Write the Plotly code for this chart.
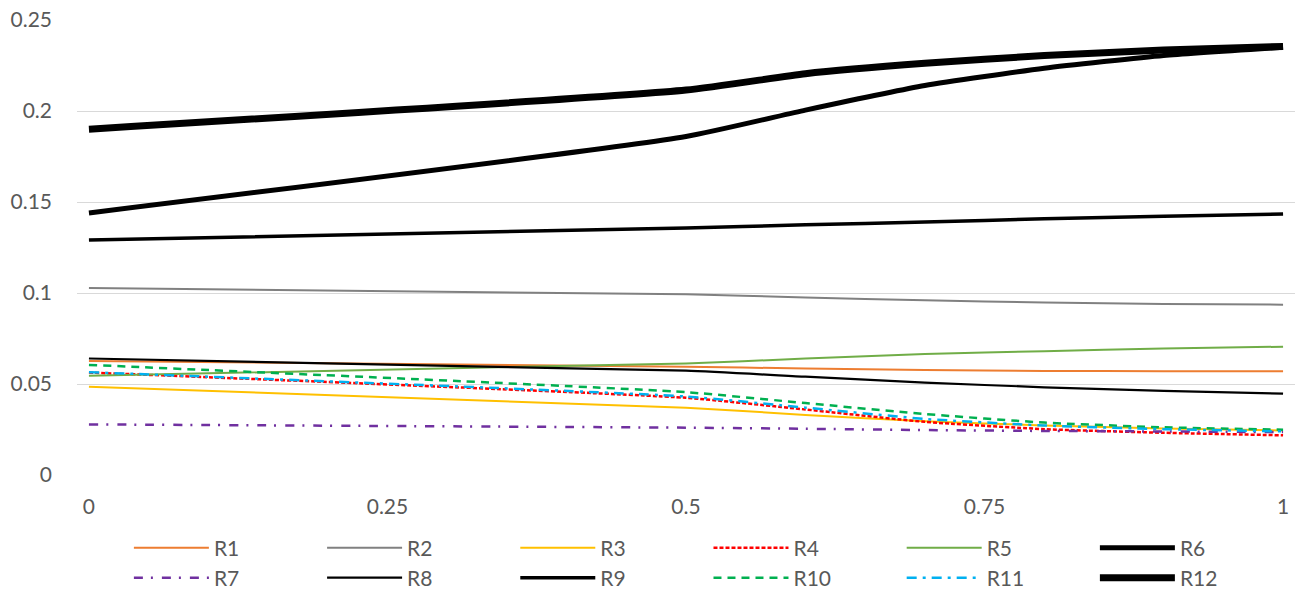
import plotly.graph_objects as go

x_vals = [0, 0.5, 0.6, 0.7, 0.8, 0.9, 1.0]

R1 = [0.0627, 0.0595, 0.0585, 0.0577, 0.0572, 0.0570, 0.0570]
R2 = [0.1027, 0.0993, 0.0975, 0.0960, 0.0948, 0.0940, 0.0936]
R3 = [0.0485, 0.0370, 0.0330, 0.0295, 0.0272, 0.0255, 0.0245]
R4 = [0.0563, 0.0424, 0.0360, 0.0292, 0.0252, 0.0232, 0.0218]
R5 = [0.0545, 0.0613, 0.0640, 0.0665, 0.0680, 0.0695, 0.0705]
R6 = [0.1440, 0.1860, 0.2005, 0.2140, 0.2235, 0.2305, 0.2350]
R7 = [0.0278, 0.0260, 0.0254, 0.0247, 0.0242, 0.0239, 0.0236]
R8 = [0.0640, 0.0573, 0.0540, 0.0508, 0.0482, 0.0462, 0.0447]
R9 = [0.1291, 0.1357, 0.1375, 0.1390, 0.1408, 0.1422, 0.1434]
R10 = [0.0605, 0.0455, 0.0395, 0.0335, 0.0288, 0.0262, 0.0249]
R11 = [0.0565, 0.0431, 0.0370, 0.0308, 0.0272, 0.0252, 0.0240]
R12 = [0.1900, 0.2115, 0.2205, 0.2262, 0.2305, 0.2335, 0.2355]

series = [
    ("R1", R1, "#ED7D31", 2, "solid"),
    ("R2", R2, "#808080", 2, "solid"),
    ("R3", R3, "#FFC000", 2, "solid"),
    ("R4", R4, "#FF0000", 2.5, "4px,2px"),
    ("R5", R5, "#70AD47", 2, "solid"),
    ("R6", R6, "#000000", 5, "solid"),
    ("R7", R7, "#7030A0", 2.5, "9px,8px,2px,9px"),
    ("R8", R8, "#000000", 2.2, "solid"),
    ("R9", R9, "#000000", 3.5, "solid"),
    ("R10", R10, "#00B050", 2.5, "8px,6px"),
    ("R11", R11, "#00B0F0", 2.5, "10px,6px,3px,6px"),
    ("R12", R12, "#000000", 7, "solid"),
]

fig = go.Figure()
for i, (name, vals, color, width, dash) in enumerate(series):
    fig.add_trace(go.Scatter(
        x=x_vals, y=vals, name=name, mode="lines",
        legend="legend" if i < 6 else "legend2",
        line=dict(color=color, width=width, dash=dash, shape="spline", smoothing=0.5),
    ))

font_family = "Lato, 'Open Sans', sans-serif"
leg_common = dict(
    orientation="h", xanchor="left", yanchor="middle",
    entrywidth=103.2, entrywidthmode="pixels", itemwidth=75,
    font=dict(size=21, color="#595959", family=font_family), traceorder="normal",
    bgcolor="rgba(0,0,0,0)",
)
fig.update_layout(
    width=1298, height=594,
    margin=dict(l=77, r=3, t=20, b=119, autoexpand=False),
    plot_bgcolor="white", paper_bgcolor="white",
    font=dict(family=font_family, size=21, color="#595959"),
    showlegend=True,
    legend=dict(x=0.0426, y=-0.1604, **leg_common),
    legend2=dict(x=0.0426, y=-0.2264, **leg_common),
    xaxis=dict(
        range=[-0.01, 1.01], tickvals=[0, 0.25, 0.5, 0.75, 1],
        ticktext=["0", "0.25", "0.5", "0.75", "1"],
        showgrid=False, zeroline=False, showline=False, ticks="",
        ticklabelstandoff=17,
    ),
    yaxis=dict(
        range=[0, 0.25], dtick=0.05, tick0=0,
        showgrid=True, gridcolor="#D9D9D9", gridwidth=1,
        zeroline=False, showline=False, ticks="",
        ticklabelstandoff=24,
    ),
)

fig.write_html(
    "out.html",
    config={"displayModeBar": False},
    post_script="document.body.style.margin='0';document.body.style.overflow='hidden';",
)
